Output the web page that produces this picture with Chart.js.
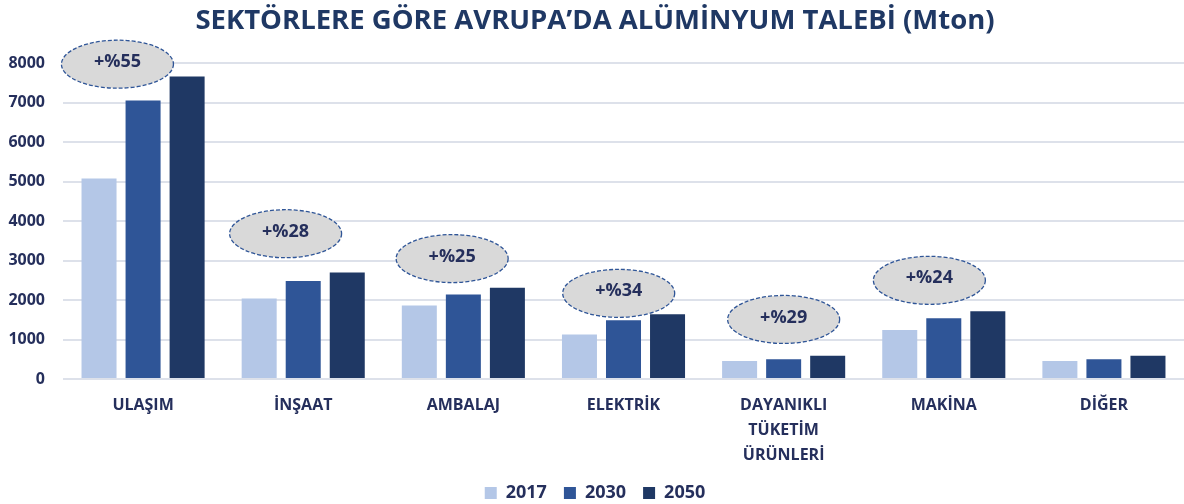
<!DOCTYPE html>
<html>
<head>
<meta charset="utf-8">
<script src="https://cdn.jsdelivr.net/npm/chart.js@4/dist/chart.umd.min.js"></script>
<style>
  html, body { margin: 0; padding: 0; background: #fff; }
  #wrap { width: 1184px; height: 504px; }
</style>
</head>
<body>
<div id="wrap"><canvas id="myChart"></canvas></div>
<script>
const sektorler = [
    'ULAŞIM',
    'İNŞAAT',
    'AMBALAJ',
    'ELEKTRİK',
    ['DAYANIKLI', 'TÜKETİM', 'ÜRÜNLERİ'],
    'MAKİNA',
    'DİĞER'
];
const yil2017 = [5080, 2040, 1860, 1130, 460, 1240, 460];
const yil2030 = [7050, 2480, 2140, 1490, 500, 1540, 500];
const yil2050 = [7660, 2700, 2310, 1640, 590, 1720, 590];
// balonlardaki artış oranları ve balonun durduğu değer (Mton)
const artislar = ['+%55', '+%28', '+%25', '+%34', '+%29', '+%24', null];
const balonDeger = [7970, 3680, 3050, 2170, 1510, 2500, null];
const balonKayma = [-0.16, -0.11, -0.07, -0.03, 0, -0.09, 0]; // kategori genişliği oranı

const lacivert = '#252f5c';
const yaziFont = 'Open Sans';

const balonlar = {
    id: 'balonlar',
    afterDatasetsDraw(chart) {
        const ctx = chart.ctx;
        const x = chart.scales.x;
        const y = chart.scales.y;
        const genislik = x.getPixelForValue(1) - x.getPixelForValue(0);
        ctx.save();
        artislar.forEach((metin, i) => {
            if (!metin) return;
            const cx = x.getPixelForValue(i) + balonKayma[i] * genislik;
            const cy = y.getPixelForValue(balonDeger[i]);
            ctx.beginPath();
            ctx.ellipse(cx, cy, 56, 24, 0, 0, Math.PI * 2);
            ctx.fillStyle = '#d9d9d9';
            ctx.fill();
            ctx.setLineDash([4, 2]);
            ctx.lineWidth = 1.3;
            ctx.strokeStyle = '#2f5597';
            ctx.stroke();
            ctx.setLineDash([]);
            ctx.fillStyle = lacivert;
            ctx.font = 'bold 18px "' + yaziFont + '"';
            ctx.textAlign = 'center';
            ctx.textBaseline = 'middle';
            ctx.fillText(metin, cx, cy - 2);
        });
        ctx.restore();
    }
};

const data = {
    labels: sektorler,
    datasets: [{
        label: '2017',
        data: yil2017,
        backgroundColor: '#b4c7e7'
    }, {
        label: '2030',
        data: yil2030,
        backgroundColor: '#2f5597'
    }, {
        label: '2050',
        data: yil2050,
        backgroundColor: '#1f3864'
    }]
};

const config = {
    type: 'bar',
    data: data,
    plugins: [balonlar],
    options: {
        responsive: true,
        maintainAspectRatio: false,
        animation: false,
        categoryPercentage: 0.825,
        barPercentage: 0.795,
        layout: { padding: { left: 6, right: 0, top: 0, bottom: -8 } },
        plugins: {
            title: {
                display: true,
                text: 'SEKTÖRLERE GÖRE AVRUPA’DA ALÜMİNYUM TALEBİ (Mton)',
                color: '#1f3864',
                font: { family: yaziFont, size: 27.5, weight: 'bold' },
                padding: { top: 5, bottom: 25 }
            },
            legend: {
                position: 'bottom',
                labels: {
                    color: lacivert,
                    boxWidth: 12,
                    boxHeight: 12,
                    padding: 17,
                    font: { family: yaziFont, size: 18, weight: 'bold' }
                }
            },
            tooltip: { enabled: false }
        },
        scales: {
            x: {
                grid: { display: false },
                border: { display: false },
                afterFit: (eksen) => { eksen.height -= 7; },
                ticks: {
                    color: lacivert,
                    padding: 6,
                    maxRotation: 0,
                    autoSkip: false,
                    font: { family: yaziFont, size: 16, weight: 'bold', lineHeight: 1.56 }
                }
            },
            y: {
                min: 0,
                max: 8000,
                grid: { color: '#dde1ea', lineWidth: 2, drawTicks: false },
                border: { display: false },
                afterFit: (eksen) => { eksen.width = 57; },
                ticks: {
                    stepSize: 1000,
                    color: lacivert,
                    padding: 18,
                    font: { family: yaziFont, size: 16, weight: 'bold' },
                    callback: (deger) => String(deger)
                }
            }
        }
    }
};

var myChart = new Chart(
    document.getElementById('myChart'),
    config
);
</script>
</body>
</html>
